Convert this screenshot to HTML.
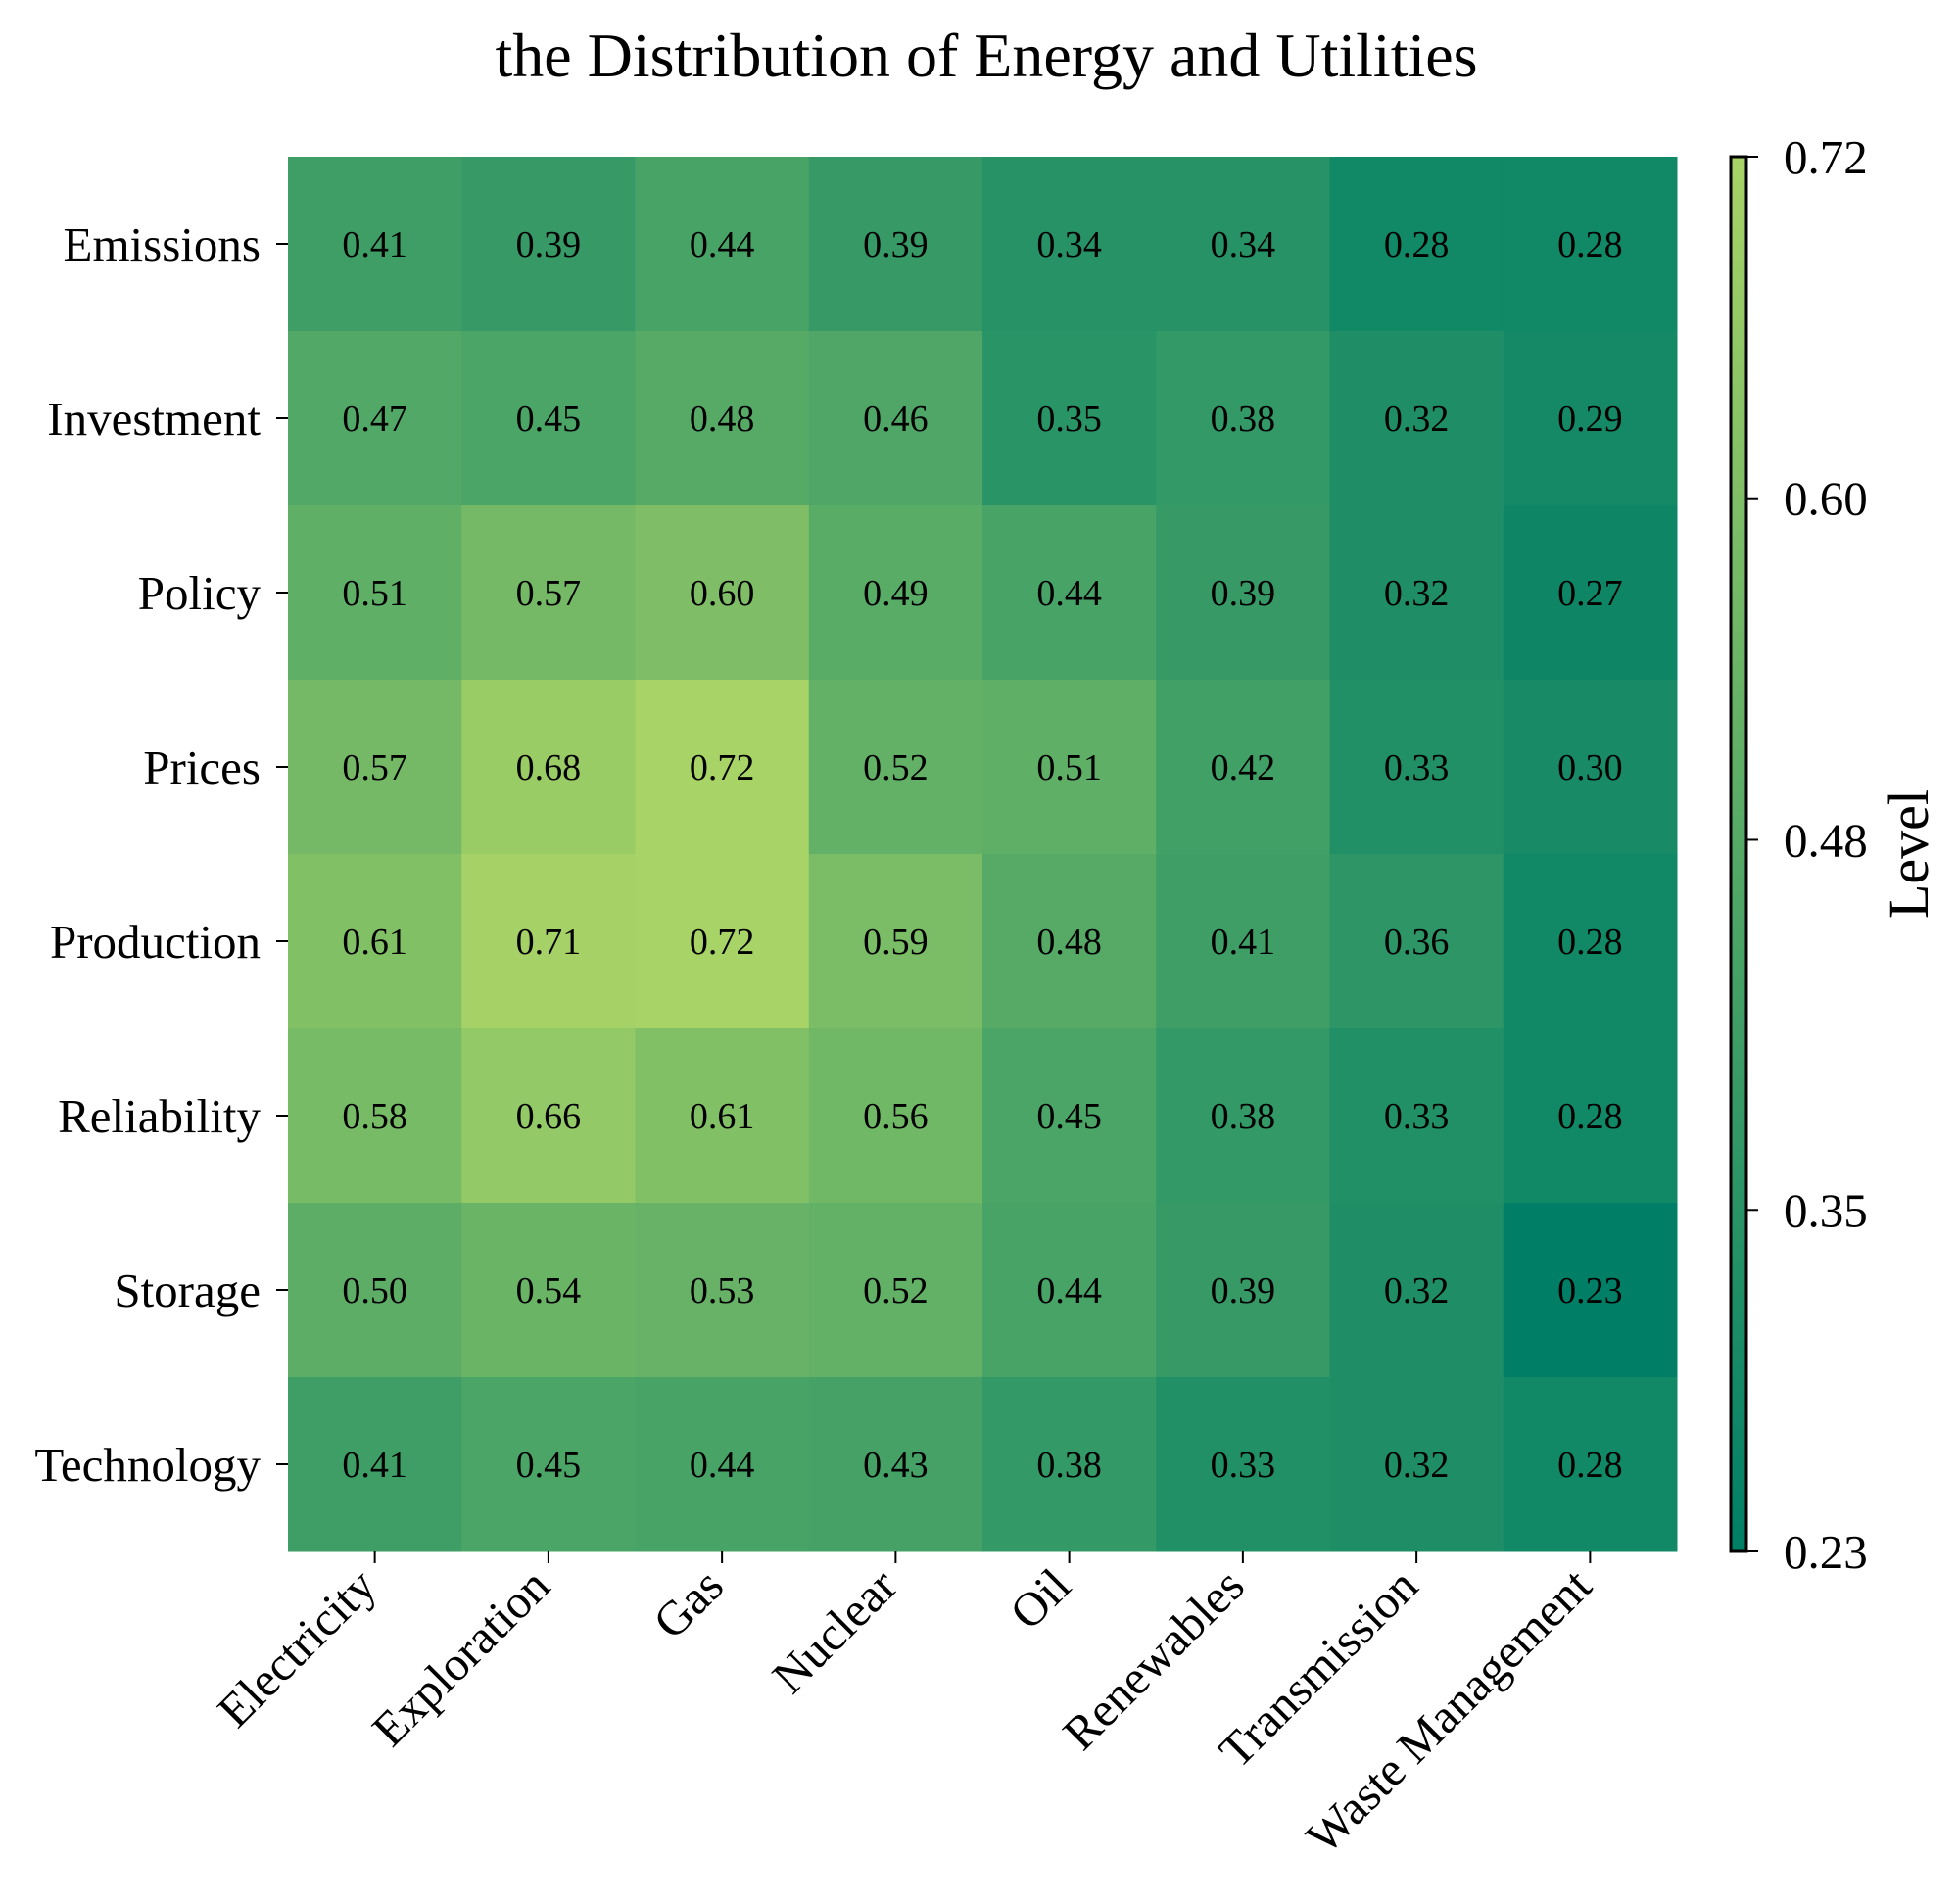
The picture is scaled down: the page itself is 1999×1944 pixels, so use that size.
<!DOCTYPE html>
<html><head><meta charset="utf-8"><style>
html,body{margin:0;padding:0;background:#fff;}
svg{display:block;font-family:"Liberation Serif",serif;}
</style></head><body>
<svg id="chart" width="1999" height="1944" viewBox="0 0 1999 1944">
<text x="1007" y="78" font-size="64" text-anchor="middle">the Distribution of Energy and Utilities</text>
<g id="cells"></g><g id="vals"></g><g id="yax"></g><g id="xax"></g><g id="cbar"></g>
</svg>
<script>
const rows = ["Emissions","Investment","Policy","Prices","Production","Reliability","Storage","Technology"];
const cols = ["Electricity","Exploration","Gas","Nuclear","Oil","Renewables","Transmission","Waste Management"];
const values = [
[0.41,0.39,0.44,0.39,0.34,0.34,0.28,0.28],
[0.47,0.45,0.48,0.46,0.35,0.38,0.32,0.29],
[0.51,0.57,0.60,0.49,0.44,0.39,0.32,0.27],
[0.57,0.68,0.72,0.52,0.51,0.42,0.33,0.30],
[0.61,0.71,0.72,0.59,0.48,0.41,0.36,0.28],
[0.58,0.66,0.61,0.56,0.45,0.38,0.33,0.28],
[0.50,0.54,0.53,0.52,0.44,0.39,0.32,0.23],
[0.41,0.45,0.44,0.43,0.38,0.33,0.32,0.28]];
const cbTicks = [0.23,0.35,0.48,0.60,0.72];
const vmin = 0.23, vmax = 0.72;
const NS="http://www.w3.org/2000/svg";
const L=294,R=1712,T=160,B=1584;
const cw=(R-L)/cols.length, ch=(B-T)/rows.length;
function color(v){const t=Math.max(0,Math.min(1,(v-vmin)/(vmax-vmin)));
return `rgb(${Math.round(168*t)},${Math.round(127+84*t)},102)`;}
function mk(tag,attrs,parent){const e=document.createElementNS(NS,tag);for(const k in attrs)e.setAttribute(k,attrs[k]);document.getElementById(parent).appendChild(e);return e;}
rows.forEach((r,i)=>{cols.forEach((c,j)=>{
 const v=values[i][j];
 const rc=mk('rect',{x:L+j*cw,y:T+i*ch,width:cw+0.5,height:ch+0.5,fill:color(v)},'cells');
 
 
 const t=mk('text',{x:L+(j+0.5)*cw,y:T+(i+0.5)*ch+13,'font-size':'38','text-anchor':'middle'},'vals');
 t.textContent=v.toFixed(2);
 
 
});
 const y=T+(i+0.5)*ch;
 const tk=mk('line',{x1:L-12,x2:L,y1:y,y2:y,stroke:'#000','stroke-width':2},'yax');
 
 
 const lb=mk('text',{x:L-28,y:y+17,'font-size':'49','text-anchor':'end'},'yax');
 lb.textContent=r;
 
 
});
cols.forEach((c,j)=>{
 const x=L+(j+0.5)*cw;
 const tk=mk('line',{x1:x,x2:x,y1:B,y2:B+12,stroke:'#000','stroke-width':2},'xax');
 
 
 const lb=mk('text',{x:x+4,y:B+38,'font-size':'49','text-anchor':'end',transform:`rotate(-45 ${x+4} ${B+38})`},'xax');
 lb.textContent=c;
 
 
});
const CL=1767,CR=1783;
const defs=mk('defs',{},'cbar');
const g=document.createElementNS(NS,'linearGradient');g.setAttribute('id','cg');g.setAttribute('x1','0');g.setAttribute('y1','1');g.setAttribute('x2','0');g.setAttribute('y2','0');defs.appendChild(g);
[0,0.5,1].forEach(s=>{const st=document.createElementNS(NS,'stop');st.setAttribute('offset',s);st.setAttribute('stop-color',color(vmin+s*(vmax-vmin)));g.appendChild(st);});
const cb=mk('rect',{x:CL,y:T,width:CR-CL,height:B-T,fill:'url(#cg)',stroke:'#000','stroke-width':3},'cbar');


cbTicks.forEach(v=>{
 const y=B-(v-vmin)/(vmax-vmin)*(B-T);
 const tk=mk('line',{x1:CR,x2:CR+12,y1:y,y2:y,stroke:'#000','stroke-width':2},'cbar');
 
 
 const lb=mk('text',{x:CR+38,y:y+17,'font-size':'49'},'cbar');
 lb.textContent=v.toFixed(2);
 
 
});
const lv=mk('text',{x:1968,y:872,'font-size':'58','text-anchor':'middle',transform:'rotate(-90 1968 872)'},'cbar');
lv.textContent='Level';


</script>
</body></html>
